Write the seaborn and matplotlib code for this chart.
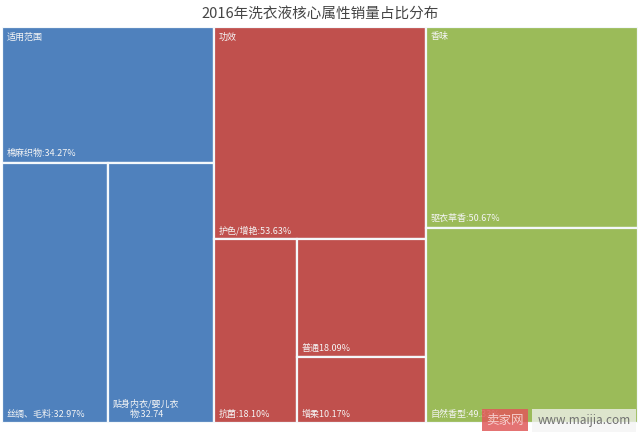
import matplotlib
matplotlib.use("Agg")
import matplotlib.pyplot as plt
from matplotlib.patches import Rectangle
import seaborn as sns

# ---- data ----
title = "2016年洗衣液核心属性销量占比分布"
groups = ["适用范围", "功效", "香味"]
group_colors = ["#4F81BD", "#C0504D", "#9BBB59"]
fanwei_labels = ["棉麻织物:34.27%", "丝绸、毛料:32.97%", "贴身内衣/婴儿衣\n物:32.74"]
fanwei_values = [34.27, 32.97, 32.74]
gongxiao_labels = ["护色/增艳:53.63%", "抗菌:18.10%", "普通18.09%", "增柔10.17%"]
gongxiao_values = [53.63, 18.10, 18.09, 10.17]
xiangwei_labels = ["驱衣草香:50.67%", "自然香型:49.33%"]
xiangwei_values = [50.67, 49.33]

group_labels = [fanwei_labels, gongxiao_labels, xiangwei_labels]
group_values = [fanwei_values, gongxiao_values, xiangwei_values]

sns.set_theme(style="white")
plt.rcParams['font.family'] = ['Noto Sans CJK SC', 'DejaVu Sans']

fig = plt.figure(figsize=(6.4, 4.32), dpi=100)
ax = fig.add_axes([0.003, 0.021, 0.994, 0.917])
ax.set_xlim(0, len(groups))
ax.set_ylim(100, 0)
ax.axis("off")


def layout(vals, x, y, w, h, vertical=True):
    """slice-and-dice: first value takes a slice, rest alternate direction"""
    rects = []
    total = sum(vals)
    if len(vals) == 1:
        return [(x, y, w, h)]
    f = vals[0] / total
    if vertical:
        rects.append((x, y, w, h * f))
        rects += layout(vals[1:], x, y + h * f, w, h * (1 - f), not vertical)
    else:
        rects.append((x, y, w * f, h))
        rects += layout(vals[1:], x + w * f, y, w * (1 - f), h, not vertical)
    return rects


for gi, (gname, color, labels, vals) in enumerate(zip(groups, group_colors, group_labels, group_values)):
    rects = layout(vals, gi, 0, 1, 100, True)
    for (x, y, w, h), lab in zip(rects, labels):
        ax.add_patch(Rectangle((x, y), w, h, facecolor=color, edgecolor="#f4f8fb", linewidth=1.6))
        ax.annotate(lab, xy=(x, y + h), xytext=(3.5, 3), textcoords="offset points",
                    ha="left", va="bottom", fontsize=6.5, color="#f5f5f5",
                    multialignment="center")
    # group header
    ax.annotate(gname, xy=(gi, 0), xytext=(3.5, -4), textcoords="offset points",
                ha="left", va="top", fontsize=6.5, color="#f5f5f5")

fig.text(0.5, 0.968, title, ha="center", va="center", fontsize=10.5,
         fontweight="normal", color="#454545")

# watermark
fig.text(0.789, 0.027, "卖家网", ha="center", va="center", fontsize=9,
         color="#f7d0d0",
         bbox=dict(boxstyle="square,pad=0.35", facecolor="#e05a5a", edgecolor="none", alpha=0.85))
fig.text(0.913, 0.027, "www.maijia.com", ha="center", va="center", fontsize=8.5,
         color="#707070",
         bbox=dict(boxstyle="square,pad=0.45", facecolor="#f4f4f4", edgecolor="none", alpha=0.75))

fig.savefig("out.png", dpi=100, facecolor="white")
